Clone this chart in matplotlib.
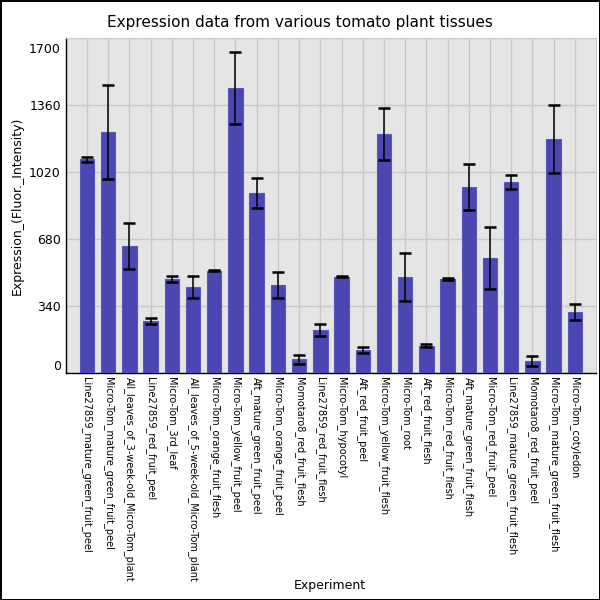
import numpy as np
import matplotlib
matplotlib.use('Agg')
import matplotlib.pyplot as plt
import matplotlib.transforms as mtransforms

tissues = [
    'Line27859_mature_green_fruit_peel',
    'Micro-Tom_mature_green_fruit_peel',
    'All_leaves_of_3-week-old_Micro-Tom_plant',
    'Line27859_red_fruit_peel',
    'Micro-Tom_3rd_leaf',
    'All_leaves_of_5-week-old_Micro-Tom_plant',
    'Micro-Tom_orange_fruit_flesh',
    'Micro-Tom_yellow_fruit_peel',
    'Aft_mature_green_fruit_peel',
    'Micro-Tom_orange_fruit_peel',
    'Momotaro8_red_fruit_flesh',
    'Line27859_red_fruit_flesh',
    'Micro-Tom_hypocotyl',
    'Aft_red_fruit_peel',
    'Micro-Tom_yellow_fruit_flesh',
    'Micro-Tom_root',
    'Aft_red_fruit_flesh',
    'Micro-Tom_red_fruit_flesh',
    'Aft_mature_green_fruit_flesh',
    'Micro-Tom_red_fruit_peel',
    'Line27859_mature_green_fruit_flesh',
    'Momotaro8_red_fruit_peel',
    'Micro-Tom_mature_green_fruit_flesh',
    'Micro-Tom_cotyledon',
]
expression = [1086, 1225, 646, 265, 479, 438, 521, 1448, 915, 448, 70, 220,
              490, 120, 1214, 489, 139, 480, 945, 585, 971, 60, 1189, 311]
errors = [12, 240, 117, 16, 17, 54, 3, 181, 77, 66, 23, 29,
          4, 15, 133, 120, 8, 5, 118, 159, 36, 25, 171, 39]
yticks = [0, 340, 680, 1020, 1360, 1700]

fig = plt.figure(figsize=(6, 6), dpi=100)
fig.patch.set_edgecolor('black')
fig.patch.set_linewidth(1)
ax = fig.add_axes([0.1095, 0.378, 0.884, 0.558])
ax.set_facecolor('#e5e5e5')

x = np.arange(len(tissues))
ax.bar(x, expression, width=0.68, color='#4a46b2', edgecolor='#5b58bb',
       linewidth=0.8, zorder=3)
ax.errorbar(x, expression, yerr=errors, fmt='none', ecolor='black',
            elinewidth=1.1, capsize=4.5, capthick=1.8, zorder=4)

ax.set_xlim(-1, len(tissues))
ax.set_ylim(0, 1700)
ax.set_yticks(yticks)
ax.set_xticks(x)
ax.set_xticklabels(tissues, rotation=-90, fontsize=7, va='top', ha='center')
ax.tick_params(axis='both', length=0, labelsize=9)
ax.tick_params(axis='x', labelsize=7, pad=3)

# end labels sit inside the axis range, like the original chart
ylabels = ax.get_yticklabels()
ylabels[0].set_verticalalignment('bottom')
ylabels[-1].set_verticalalignment('top')
ylabels[-1].set_transform(ylabels[-1].get_transform() +
                          mtransforms.ScaledTranslation(0, -3 / 72, fig.dpi_scale_trans))

ax.grid(True, color='#c8c8c8', linewidth=1, zorder=0)
ax.set_axisbelow(True)
for s in ['top', 'right']:
    ax.spines[s].set_color('#cccccc')
for s in ['left', 'bottom']:
    ax.spines[s].set_color('black')
    ax.spines[s].set_linewidth(1)

ax.set_ylabel('Expression_(Fluor._Intensity)', fontsize=9)
fig.text(0.55, 0.018, 'Experiment', ha='center', fontsize=9)
fig.suptitle('Expression data from various tomato plant tissues', fontsize=11, y=0.975)

fig.savefig('out.png', dpi=100, edgecolor=fig.get_edgecolor())
